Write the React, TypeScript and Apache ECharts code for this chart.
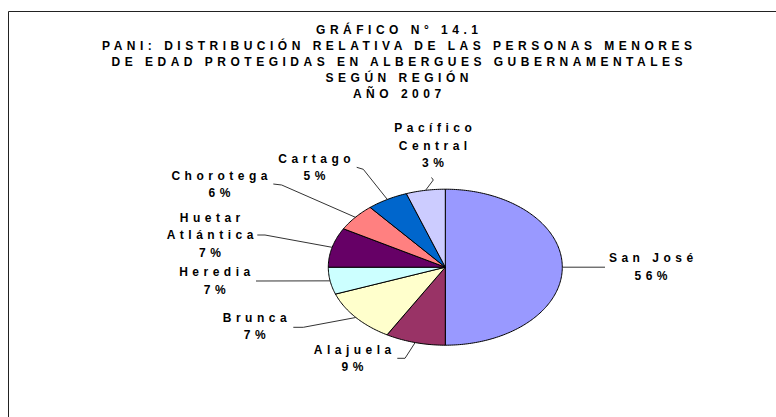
import React, { useEffect, useRef } from "react";
import * as echarts from "echarts";

// Regions (slice order: clockwise from 12 o'clock)
const regions = [
  "San José",
  "Alajuela",
  "Brunca",
  "Heredia",
  "Huetar\nAtlántica",
  "Chorotega",
  "Cartago",
  "Pacífico\nCentral",
];
// Slice shares as drawn in the picture (percent of the full circle)
const sliceShares = [50.0, 8.3, 11.1, 5.6, 8.2, 5.7, 5.7, 5.4];
// Percent labels printed on the chart
const labelPercents = [56, 9, 7, 7, 7, 6, 5, 3];

const titleLines = [
  "GRÁFICO N° 14.1",
  "PANI: DISTRIBUCIÓN RELATIVA DE LAS PERSONAS MENORES",
  "DE EDAD PROTEGIDAS EN ALBERGUES GUBERNAMENTALES",
  "SEGÚN REGIÓN",
  "AÑO 2007",
];

// styles / layout
const colors = ["#9999FF", "#993366", "#FFFFCC", "#CCFFFF", "#660066", "#FF8080", "#0066CC", "#CCCCFF"];
const PIE = { cx: 445.3, cy: 267.2, rx: 117, ry: 78 };
const LS = 4.5; // letter spacing
const FONT = '"Liberation Sans", Arial, Helvetica, sans-serif';
// label block centres (ink centre)
const labelPos: [number, number][] = [
  [651, 267],
  [352.5, 358.7],
  [254.7, 326.4],
  [214.7, 280.9],
  [210, 235],
  [219.4, 184.7],
  [314.5, 167.7],
  [433, 145.5],
];
// leader line points after the slice edge point
const leaderPts: [number, number][][] = [
  [[605, 267.2]],
  [[405, 358.3], [397.3, 358.3]],
  [[303.3, 327.3], [293.3, 327.3]],
  [[256, 281]],
  [[265, 235], [257.3, 235]],
  [[281.7, 185], [273.3, 184]],
  [[363.3, 169.3], [356.7, 167.3]],
  [[433.3, 180], [431.5, 177.5]],
];

export default function App() {
  const ref = useRef<HTMLDivElement>(null);
  useEffect(() => {
    if (!ref.current) return;
    const chart = echarts.init(ref.current, undefined, { renderer: "svg" });
    const total = sliceShares.reduce((a, b) => a + b, 0);
    let acc = 0;
    const data = sliceShares.map((v) => {
      const item = [acc, acc + v];
      acc += v;
      return item;
    });

    const pt = (theta: number): [number, number] => [
      PIE.cx + PIE.rx * Math.sin(theta),
      PIE.cy - PIE.ry * Math.cos(theta),
    ];

    const renderItem = (params: any, api: any) => {
      const i = params.dataIndex;
      const a0 = (api.value(0) / total) * Math.PI * 2;
      const a1 = (api.value(1) / total) * Math.PI * 2;
      const pts: [number, number][] = [[PIE.cx, PIE.cy]];
      const steps = Math.max(2, Math.ceil(((a1 - a0) * 180) / Math.PI));
      for (let k = 0; k <= steps; k++) {
        pts.push(pt(a0 + ((a1 - a0) * k) / steps));
      }
      const mid = (a0 + a1) / 2;
      const edge = pt(mid);
      const [lx, ly] = labelPos[i];
      return {
        type: "group",
        children: [
          {
            type: "polygon",
            shape: { points: pts },
            style: { fill: colors[i], stroke: "#000", lineWidth: 1 },
          },
          {
            type: "polyline",
            shape: { points: [edge, ...leaderPts[i]] },
            style: { fill: "none", stroke: "#333", lineWidth: 1 },
          },
          {
            type: "text",
            x: lx + LS / 2,
            y: ly,
            style: {
              text: `${regions[i]}\n${labelPercents[i]}%`,
              align: "center",
              verticalAlign: "middle",
              fontFamily: FONT,
              fontWeight: "bold",
              fontSize: 12,
              lineHeight: 17.5,
              fill: "#000",
            },
          },
        ],
      };
    };

    chart.setOption({
      animation: false,
      backgroundColor: "#fff",
      graphic: [
        {
          type: "rect",
          shape: { x: 8.5, y: 11.5, width: 820, height: 500 },
          style: { fill: "none", stroke: "#222", lineWidth: 1 },
          silent: true,
        },
        {
          type: "text",
          x: 397 + LS / 2,
          y: 22,
          style: {
            text: titleLines.join("\n"),
            align: "center",
            verticalAlign: "top",
            fontFamily: FONT,
            fontWeight: "bold",
            fontSize: 12,
            lineHeight: 16,
            fill: "#000",
          },
        },
      ],
      series: [
        {
          type: "custom",
          coordinateSystem: "none",
          renderItem,
          data,
          silent: true,
        },
      ],
    });

    const applySpacing = () => {
      ref.current?.querySelectorAll("text").forEach((t) => {
        t.setAttribute("letter-spacing", String(LS));
      });
    };
    applySpacing();
    chart.on("finished", applySpacing);
    return () => chart.dispose();
  }, []);
  return <div ref={ref} style={{ position: "absolute", left: 0, top: 0, width: 776, height: 417 }} />;
}
